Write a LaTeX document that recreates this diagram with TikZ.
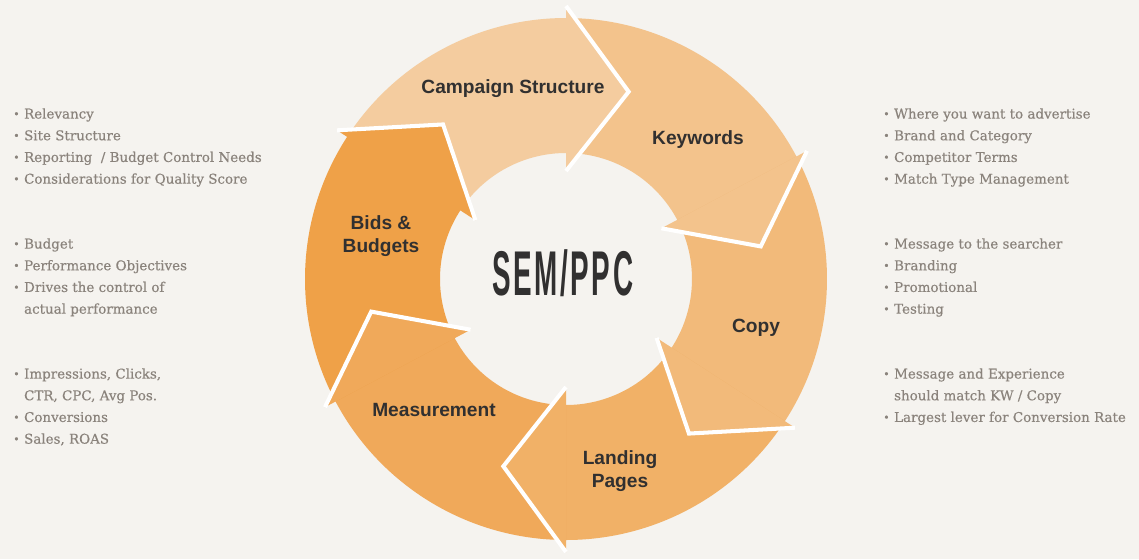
\documentclass[tikz,border=0pt]{standalone}
\usepackage{fontspec}
\usepackage{tikz}
\usetikzlibrary{positioning}
\setmainfont{Liberation Sans}
\newfontfamily\notefont{DejaVu Serif}[FakeBold=0.4]
\definecolor{sbg}{HTML}{F5F3EF}
\definecolor{sink}{HTML}{313030}
\definecolor{cnote}{HTML}{8A837C}
\definecolor{camp}{HTML}{F4CC9F}
\definecolor{ckey}{HTML}{F3C38C}
\definecolor{ccopy}{HTML}{F2BA7A}
\definecolor{cland}{HTML}{F1B167}
\definecolor{cmeas}{HTML}{F0A95A}
\definecolor{cbids}{HTML}{EFA148}
\newcommand{\sbul}{\raisebox{0.5pt}{\fontsize{6}{6}\selectfont\textbullet}}
\tikzset{
  slabel/.style={text=sink, font=\fontsize{10.9}{13}\selectfont\bfseries,
    align=center, inner sep=0pt},
  snote/.style={text=cnote, anchor=north west, inner sep=0pt,
    font=\notefont\fontsize{7.65}{12.35}\selectfont},
  sgap/.style={draw=white, line width=2.3pt, line join=miter},
}

\begin{document}
\begin{tikzpicture}[x=0.02cm,y=0.02cm]

\useasboundingbox (-566,-280) rectangle (573,279);
\fill[sbg] (-566,-280) rectangle (573,279);

% ring bodies
\foreach \p/\b/\c in {147/90/camp, 90/28/ckey, 28/-33/ccopy,
    -33/-90/cland, -90/-152/cmeas, -152/-213/cbids}
  \fill[\c] (\p:261) arc[start angle=\p, end angle=\b-1, radius=261]
    -- ({\b-1}:126) arc[start angle=\b-1, end angle=\p, radius=126] -- cycle;

% arrow heads
\foreach \b/\c in {90/camp, 28/ckey, -33/ccopy, -90/cland, -152/cmeas, -213/cbids}
  \path[fill=\c, sgap] (\b:273) -- ({\b-18.5}:197.5) -- (\b:108);

\node[slabel] (cs) at (-53,190) {Campaign Structure};
\node[slabel] (kw) at (132,139) {Keywords};
\node[slabel] (cp) at (190,-49) {Copy};
\node[slabel] (lp) at (54,-192) {Landing\\Pages};
\node[slabel] (ms) at (-132,-131) {Measurement};
\node[slabel] (bb) at (-185,43) {Bids \&\\Budgets};

\node[text=sink, inner sep=0pt] (sem) at (-3,6)
  {\scalebox{0.44}[1]{\fontsize{36}{40}\selectfont\bfseries
   \addfontfeatures{LetterSpace=9}SEM/PPC}};

% notes, left
\node[snote] (n1) at (-553,176) {\begin{tabular}{@{}l@{\hspace{2.6pt}}l@{}}
  \sbul & Relevancy\\
  \sbul & Site Structure\\
  \sbul & Reporting~ / Budget Control Needs\\
  \sbul & Considerations for Quality Score
  \end{tabular}};
\node[snote] (n2) at (-553,46) {\begin{tabular}{@{}l@{\hspace{2.6pt}}l@{}}
  \sbul & Budget\\
  \sbul & Performance Objectives\\
  \sbul & Drives the control of\\
        & actual performance
  \end{tabular}};
\node[snote] (n3) at (-553,-84) {\begin{tabular}{@{}l@{\hspace{2.6pt}}l@{}}
  \sbul & Impressions, Clicks,\\
        & CTR, CPC, Avg Pos.\\
  \sbul & Conversions\\
  \sbul & Sales, ROAS
  \end{tabular}};

% notes, right
\node[snote] (n4) at (317,176) {\begin{tabular}{@{}l@{\hspace{2.6pt}}l@{}}
  \sbul & Where you want to advertise\\
  \sbul & Brand and Category\\
  \sbul & Competitor Terms\\
  \sbul & Match Type Management
  \end{tabular}};
\node[snote] (n5) at (317,46) {\begin{tabular}{@{}l@{\hspace{2.6pt}}l@{}}
  \sbul & Message to the searcher\\
  \sbul & Branding\\
  \sbul & Promotional\\
  \sbul & Testing
  \end{tabular}};
\node[snote] (n6) at (317,-84) {\begin{tabular}{@{}l@{\hspace{2.6pt}}l@{}}
  \sbul & Message and Experience\\
        & should match KW / Copy\\
  \sbul & Largest lever for Conversion Rate
  \end{tabular}};

\end{tikzpicture}
\end{document}
